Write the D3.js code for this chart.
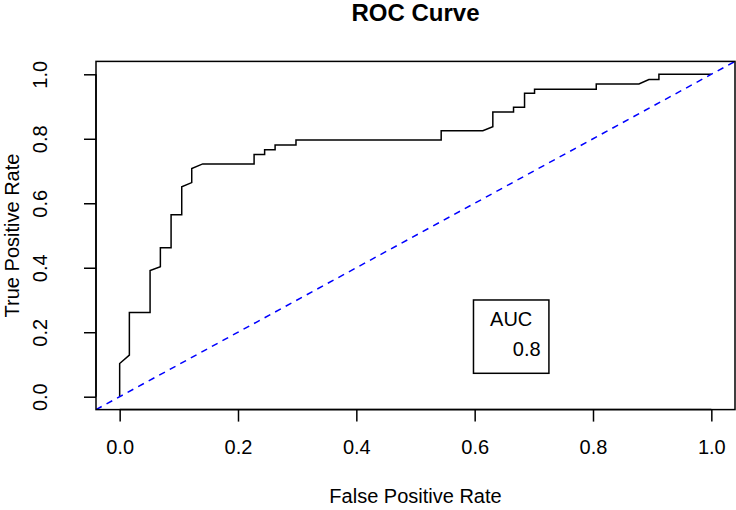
<!DOCTYPE html>
<html><head><meta charset="utf-8">
<script src="https://cdn.jsdelivr.net/npm/d3@7"></script>
<style>
html,body{margin:0;padding:0;background:#fff;}
text{font-family:"Liberation Sans",Arial,Helvetica,sans-serif;fill:#000;}
</style></head>
<body><svg id="c" width="736" height="510"></svg>
<script>
const fpr = [0,0,0.0164,0.0164,0.0514,0.0514,0.0688,0.0688,0.0869,0.0869,0.1049,0.1049,0.1218,0.1218,0.1404,0.2272,0.2272,0.245,0.245,0.2627,0.2627,0.298,0.298,0.5434,0.5434,0.6138,0.6307,0.6307,0.6657,0.6657,0.6843,0.6843,0.7012,0.7012,0.8055,0.8055,0.8776,0.8945,0.9114,0.9114,1];
const tpr = [0,0.103,0.129,0.261,0.261,0.391,0.403,0.462,0.462,0.564,0.564,0.651,0.664,0.708,0.722,0.722,0.751,0.751,0.766,0.766,0.781,0.781,0.796,0.796,0.825,0.825,0.8375,0.883,0.883,0.898,0.898,0.941,0.941,0.954,0.954,0.970,0.970,0.984,0.984,1,1];
const xTicks = [0,0.2,0.4,0.6,0.8,1.0];
const yTicks = [0,0.2,0.4,0.6,0.8,1.0];
const titleText = "ROC Curve";
const xLabel = "False Positive Rate";
const yLabel = "True Positive Rate";
const legendTitle = "AUC";
const aucValue = [0.8];

const svg = d3.select("#c");
const L = 96, R = 735, T = 61.4, B = 409.6;
const x = d3.scaleLinear().domain([-0.04,1.04]).range([L,R]);
const y = d3.scaleLinear().domain([-0.04,1.04]).range([B,T]);
const lw = 1.5;

svg.append("defs").append("clipPath").attr("id","clip")
  .append("rect").attr("x",L).attr("y",T).attr("width",R-L).attr("height",B-T);

// ROC curve
const pts = fpr.map((v,i)=>[v,tpr[i]]);
svg.append("path").attr("clip-path","url(#clip)")
  .attr("d", d3.line().x(d=>x(d[0])).y(d=>y(d[1]))(pts))
  .attr("fill","none").attr("stroke","#000").attr("stroke-width",lw);

// diagonal
svg.append("line").attr("clip-path","url(#clip)")
  .attr("x1",x(-0.04)).attr("y1",y(-0.04)).attr("x2",x(1.04)).attr("y2",y(1.04))
  .attr("stroke","#0000ff").attr("stroke-width",lw).attr("stroke-dasharray","6.5,5.5");

// box
svg.append("rect").attr("x",L).attr("y",T).attr("width",R-L).attr("height",B-T)
  .attr("fill","none").attr("stroke","#000").attr("stroke-width",lw);

// x axis
const xa = svg.append("g").attr("transform",`translate(0,${B})`)
  .call(d3.axisBottom(x).tickValues(xTicks).tickFormat(d3.format(".1f")).tickSize(12).tickPadding(0));
xa.select(".domain").attr("d",`M${x(0)},0H${x(1)}`).attr("stroke-width",lw);
xa.selectAll(".tick line").attr("stroke-width",lw);
xa.selectAll(".tick text").attr("y",44.7).attr("dy",null).attr("font-size","20px")
  .style("font-family",'"Liberation Sans",Arial,sans-serif');

// y axis
const ya = svg.append("g").attr("transform",`translate(${L},0)`)
  .call(d3.axisLeft(y).tickValues(yTicks).tickFormat(d3.format(".1f")).tickSize(12).tickPadding(0));
ya.select(".domain").attr("d",`M0,${y(0)}V${y(1)}`).attr("stroke-width",lw);
ya.selectAll(".tick line").attr("stroke-width",lw);
ya.selectAll(".tick text").attr("x",null).attr("dy",null)
  .attr("text-anchor","middle").attr("font-size","20px")
  .attr("transform",`translate(${46.7-L},0) rotate(-90)`)
  .style("font-family",'"Liberation Sans",Arial,sans-serif');

// title
svg.append("text").attr("x",(L+R)/2).attr("y",20.5).attr("text-anchor","middle")
  .attr("font-size","24px").attr("font-weight","bold").text(titleText);
// x label
svg.append("text").attr("x",(L+R)/2).attr("y",502.5).attr("text-anchor","middle")
  .attr("font-size","20px").text(xLabel);
// y label
svg.append("text").attr("transform",`translate(18.5,${(T+B)/2}) rotate(-90)`)
  .attr("text-anchor","middle").attr("font-size","20px").text(yLabel);

// legend
const lx0 = x(0.598), lx1 = x(0.7255), ly0 = y(0.3), ly1 = y(0.0726);
svg.append("rect").attr("x",lx0).attr("y",ly0).attr("width",lx1-lx0).attr("height",ly1-ly0)
  .attr("fill","none").attr("stroke","#000").attr("stroke-width",lw);
svg.append("text").attr("x",(lx0+lx1)/2).attr("y",ly0+25.7).attr("text-anchor","middle")
  .attr("font-size","20px").text(legendTitle);
svg.selectAll("text.auc").data(aucValue).enter().append("text").attr("class","auc")
  .attr("x",lx0+39.3).attr("y",ly0+55.7).attr("font-size","20px").text(d=>d3.format(".1f")(d));
</script></body></html>
